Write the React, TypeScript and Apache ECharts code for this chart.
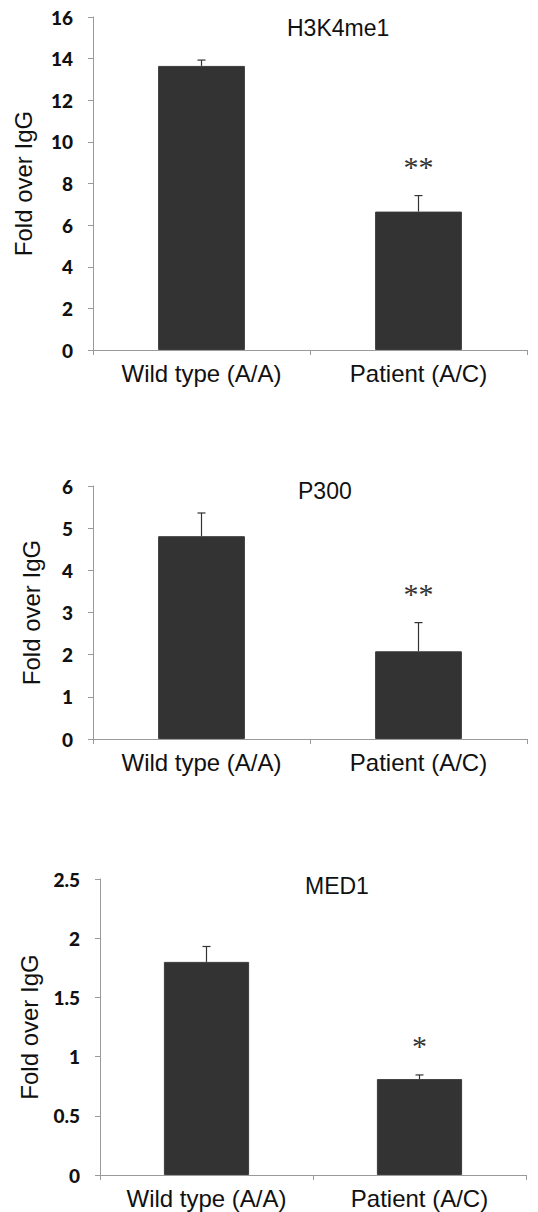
import React, { useEffect, useRef } from "react";
import * as echarts from "echarts";

const categories = ["Wild type (A/A)", "Patient (A/C)"];

const h3k4me1Means = [13.65, 6.65];
const h3k4me1Errors = [0.28, 0.77];
const h3k4me1Stars = ["", "**"];

const p300Means = [4.81, 2.08];
const p300Errors = [0.55, 0.68];
const p300Stars = ["", "**"];

const med1Means = [1.8, 0.81];
const med1Errors = [0.13, 0.035];
const med1Stars = ["", "*"];

const panelTitles = ["H3K4me1", "P300", "MED1"];
const yMaxes = [16, 6, 2.5];
const yIntervals = [2, 1, 0.5];
const yName = "Fold over IgG";

const AXIS_COLOR = "#9a9a9a";
const BAR_COLOR = "#333333";
const TEXT_COLOR = "#111111";

export default function App() {
  const ref = useRef<HTMLDivElement>(null);

  useEffect(() => {
    if (!ref.current) return;
    const chart = echarts.init(ref.current, undefined, { renderer: "svg" });

    const panels = [
      { means: h3k4me1Means, errors: h3k4me1Errors, stars: h3k4me1Stars },
      { means: p300Means, errors: p300Errors, stars: p300Stars },
      { means: med1Means, errors: med1Errors, stars: med1Stars },
    ];

    const grids = [
      { left: 93, top: 17, width: 434, height: 333 },
      { left: 93, top: 486, width: 434, height: 253 },
      { left: 100, top: 879, width: 426, height: 296 },
    ];
    const nameGaps = [58, 50, 59];
    const titleLayout = [
      { left: 287, top: 16 },
      { left: 298, top: 479 },
      { left: 305, top: 874 },
    ];

    const xAxes = grids.map((_, i) => ({
      type: "category",
      gridIndex: i,
      data: categories,
      boundaryGap: true,
      axisLine: { show: true, lineStyle: { color: AXIS_COLOR, width: 1 } },
      axisTick: { show: true, length: 5, lineStyle: { color: AXIS_COLOR } },
      axisLabel: {
        color: TEXT_COLOR,
        fontFamily: "Liberation Sans, Arial, sans-serif",
        fontSize: 24,
        margin: 11,
      },
    }));

    const yAxes = grids.map((_, i) => ({
      type: "value",
      gridIndex: i,
      min: 0,
      max: yMaxes[i],
      interval: yIntervals[i],
      name: yName,
      nameLocation: "middle",
      nameRotate: 90,
      nameGap: nameGaps[i],
      nameTextStyle: {
        color: TEXT_COLOR,
        fontFamily: "Liberation Sans, Arial, sans-serif",
        fontSize: 24,
      },
      axisLine: { show: true, lineStyle: { color: AXIS_COLOR, width: 1 } },
      axisTick: { show: true, length: 5, lineStyle: { color: AXIS_COLOR } },
      splitLine: { show: false },
      axisLabel: {
        color: TEXT_COLOR,
        fontFamily: "Lato, sans-serif",
        fontWeight: 900,
        fontSize: 19,
        margin: 20,
      },
    }));

    const series: any[] = [];
    panels.forEach((p, i) => {
      series.push({
        type: "bar",
        xAxisIndex: i,
        yAxisIndex: i,
        data: p.means,
        barCategoryGap: "60%",
        itemStyle: { color: BAR_COLOR, borderColor: "#3c3c3c", borderWidth: 1 },
        z: 2,
      });
      series.push({
        type: "custom",
        xAxisIndex: i,
        yAxisIndex: i,
        z: 3,
        encode: { x: 0, y: 1 },
        data: p.means.map((m, k) => [k, m, p.errors[k]]),
        renderItem: (params: any, api: any) => {
          const idx = api.value(0);
          const mean = api.value(1);
          const err = api.value(2);
          const base = api.coord([idx, mean]);
          const top = api.coord([idx, mean + err]);
          const cap = 4;
          const children: any[] = [
            {
              type: "line",
              shape: { x1: base[0], y1: base[1], x2: top[0], y2: top[1] },
              style: { stroke: "#333", lineWidth: 1.2 },
            },
            {
              type: "line",
              shape: { x1: top[0] - cap, y1: top[1], x2: top[0] + cap, y2: top[1] },
              style: { stroke: "#333", lineWidth: 1.2 },
            },
          ];
          const star = p.stars[params.dataIndex];
          if (star) {
            children.push({
              type: "text",
              x: top[0],
              y: top[1] - 29,
              style: {
                text: star,
                fill: "#333",
                font: "30px 'Liberation Serif', 'Times New Roman', serif",
                align: "center",
                verticalAlign: "middle",
              },
            });
          }
          return { type: "group", children };
        },
      });
    });

    chart.setOption({
      animation: false,
      backgroundColor: "#ffffff",
      title: panelTitles.map((t, i) => ({
        text: t,
        left: titleLayout[i].left,
        top: titleLayout[i].top,
        padding: 0,
        textStyle: {
          color: TEXT_COLOR,
          fontFamily: "Liberation Sans, Arial, sans-serif",
          fontSize: 23,
          fontWeight: "normal",
        },
      })),
      grid: grids,
      xAxis: xAxes,
      yAxis: yAxes,
      series,
    });

    return () => chart.dispose();
  }, []);

  return (
    <div
      ref={ref}
      style={{ position: "absolute", left: 0, top: 0, width: 538, height: 1212, background: "#fff" }}
    />
  );
}
